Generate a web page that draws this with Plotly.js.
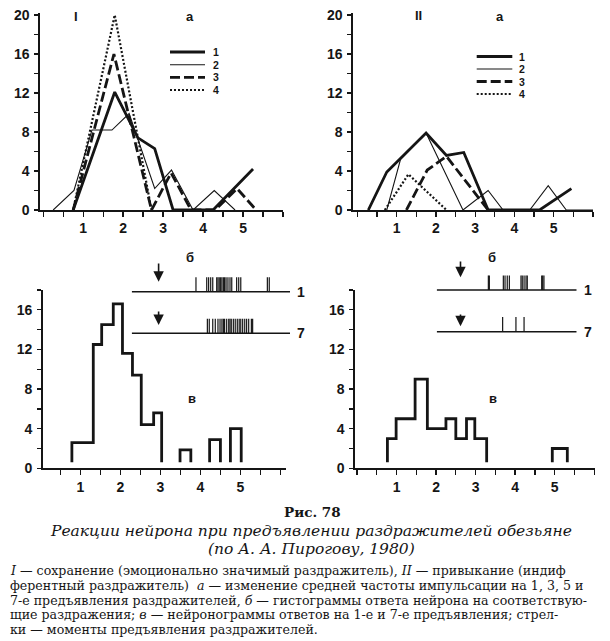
<!DOCTYPE html>
<html><head><meta charset="utf-8">
<script src="https://cdn.plot.ly/plotly-3.0.1.min.js"></script>
<style>html,body{margin:0;padding:0;background:#fff}#chart{width:610px;height:641px}</style>
</head><body><div id="chart"></div>
<script>
// ---------- DATA ----------
const xTickVals = [1, 2, 3, 4, 5];
const xTickText = ['1', '2', '3', '4', '5'];
const topYTicks = [0, 4, 8, 12, 16, 20];
const botYTicks = [0, 4, 8, 12, 16];
const seriesNames = ['1', '2', '3', '4'];

// Panel I, a — mean firing rate change, presentations 1,3,5,7
const I_x1 = [0.75, 1.79, 2.37, 2.79, 3.25, 4.25, 5.25];
const I_y1 = [0, 12.1, 7.4, 6.3, 0, 0, 4.2];
const I_x2 = [0.25, 0.77, 1.22, 1.72, 2.15, 2.79, 3.21, 3.75, 4.28, 4.8];
const I_y2 = [0, 2.0, 8.2, 8.2, 9.9, 2.2, 4.1, 0, 2.0, 0];
const I_x3 = [0.75, 1.77, 2.71, 3.2, 3.7, 4.3, 4.85, 5.33];
const I_y3 = [0, 16, 0, 3.8, 0, 0, 2.2, 0];
const I_x4 = [0.75, 1.79, 2.71];
const I_y4 = [0, 20, 0];

// Panel II, a
const II_x1 = [0.28, 0.75, 1.75, 2.27, 2.71, 3.33, 4.64, 5.45];
const II_y1 = [0, 3.9, 7.9, 5.6, 5.9, 0, 0, 2.2];
const II_x2 = [0.75, 1.1, 1.75, 2.69, 3.33, 3.71, 4.39, 4.86, 5.32, 6.0];
const II_y2 = [0, 5.2, 7.9, 0, 2.0, 0, 0, 2.5, 0, 0];
const II_x3 = [1.25, 1.78, 2.27, 3.33];
const II_y3 = [0, 4.1, 5.5, 0];
const II_x4 = [0.7, 1.3, 2.27];
const II_y4 = [0, 3.66, 0];

// Histograms (в)
const histI_left   = [0.785, 1.32, 1.53, 1.82, 2.05, 2.30, 2.52, 2.83, 3.49, 4.23, 4.75];
const histI_right  = [1.32, 1.53, 1.82, 2.05, 2.30, 2.52, 2.83, 3.03, 3.76, 4.50, 5.02];
const histI_counts = [2.6, 12.5, 14.5, 16.6, 11.6, 9.4, 4.4, 5.6, 1.85, 2.9, 4.0];
const histII_left   = [0.77, 0.99, 1.47, 1.78, 2.25, 2.50, 2.77, 2.98, 4.94];
const histII_right  = [0.99, 1.47, 1.78, 2.25, 2.50, 2.77, 2.98, 3.28, 5.32];
const histII_counts = [3, 5, 9, 4, 5, 3, 5, 3, 2];

// Neuronograms (б): spike times, stimulus time, trials
const trials = [1, 7];
const stimTime = 17;
const rasterWindow = [0, 100];
const rasterI_trial1 = [40.6, 47.4, 48.6, 49.9, 51.2, 53.7, 54.5, 55.3, 56.2, 57.0, 57.9, 58.7, 59.6, 60.8, 62.1, 63.2, 66.3, 67.6, 68.9, 85.7, 86.9];
const rasterI_trial7 = [47.8, 49.0, 51.2, 52.8, 54.5, 55.8, 57.0, 57.9, 58.7, 60.0, 61.3, 62.1, 62.9, 64.2, 65.4, 66.7, 67.9, 68.9, 70.1, 71.4, 72.6, 73.9, 75.6, 76.4];
const rasterII_trial1 = [36.9, 37.6, 47.6, 48.8, 50.4, 51.9, 60.2, 61.1, 62.4, 63.8, 64.7, 75.0, 75.7, 76.6];
const rasterII_trial7 = [47.1, 56.6, 62.4];

// ---------- HELPERS ----------
const INK = '#151515';
const W = 610, H = 641;
const px = v => v / W;
const py = v => 1 - v / H;

const styles = [
  {width: 2.8, dash: 'solid'},
  {width: 1.1, dash: 'solid'},
  {width: 2.8, dash: '10px,4px'},
  {width: 2.2, dash: '2px,2px'}
];

function lineTrace(x, y, i, xa, ya) {
  return {x, y, xaxis: xa, yaxis: ya, type: 'scatter', mode: 'lines', name: seriesNames[i],
    showlegend: false, hoverinfo: 'skip', cliponaxis: false,
    line: {color: INK, width: styles[i].width, dash: styles[i].dash, shape: 'linear'}};
}

const histBase = 0.6;
function stepPath(lefts, rights, counts) {
  const xs = [], ys = [];
  for (let i = 0; i < lefts.length; i++) {
    const newGroup = i === 0 || Math.abs(lefts[i] - rights[i - 1]) > 1e-6;
    if (newGroup) {
      if (i > 0) { xs.push(rights[i - 1]); ys.push(histBase); xs.push(null); ys.push(null); }
      xs.push(lefts[i]); ys.push(histBase);
    }
    xs.push(lefts[i]); ys.push(counts[i]);
    xs.push(rights[i]); ys.push(counts[i]);
  }
  xs.push(rights[rights.length - 1]); ys.push(histBase);
  return {xs, ys};
}
function histTrace(l, r, c, xa, ya) {
  const p = stepPath(l, r, c);
  return {x: p.xs, y: p.ys, xaxis: xa, yaxis: ya, type: 'scatter', mode: 'lines',
    showlegend: false, hoverinfo: 'skip', connectgaps: false,
    line: {color: INK, width: 2.8, shape: 'linear'}};
}

const spikeH = 2.1;
function spikeTrace(times, row, xa, ya) {
  const xs = [], ys = [];
  times.forEach(t => { xs.push(t, t, null); ys.push(row, row - spikeH, null); });
  return {x: xs, y: ys, xaxis: xa, yaxis: ya, type: 'scatter', mode: 'lines',
    showlegend: false, hoverinfo: 'skip', line: {color: INK, width: 1.2}};
}
function baseTrace(row, xa, ya) {
  return {x: rasterWindow, y: [row, row], xaxis: xa, yaxis: ya, type: 'scatter', mode: 'lines',
    showlegend: false, hoverinfo: 'skip', line: {color: INK, width: 1.4}};
}

const data = [
  lineTrace(I_x2, I_y2, 1, 'x', 'y'),
  lineTrace(I_x4, I_y4, 3, 'x', 'y'),
  lineTrace(I_x3, I_y3, 2, 'x', 'y'),
  lineTrace(I_x1, I_y1, 0, 'x', 'y'),
  lineTrace(II_x2, II_y2, 1, 'x2', 'y2'),
  lineTrace(II_x4, II_y4, 3, 'x2', 'y2'),
  lineTrace(II_x3, II_y3, 2, 'x2', 'y2'),
  lineTrace(II_x1, II_y1, 0, 'x2', 'y2'),
  histTrace(histI_left, histI_right, histI_counts, 'x3', 'y3'),
  histTrace(histII_left, histII_right, histII_counts, 'x4', 'y4'),
  baseTrace(trials[0], 'x5', 'y5'), baseTrace(trials[1], 'x5', 'y5'),
  spikeTrace(rasterI_trial1, trials[0], 'x5', 'y5'),
  spikeTrace(rasterI_trial7, trials[1], 'x5', 'y5'),
  baseTrace(trials[0], 'x6', 'y6'), baseTrace(trials[1], 'x6', 'y6'),
  spikeTrace(rasterII_trial1, trials[0], 'x6', 'y6'),
  spikeTrace(rasterII_trial7, trials[1], 'x6', 'y6')
];

// ---------- LAYOUT ----------
const tickFont = {family: 'Liberation Sans, Arial, sans-serif', size: 14, color: INK, weight: 'bold'};
function xAx(dom, range, anchor) {
  return {domain: dom, range, anchor, showline: true, linecolor: INK, linewidth: 1.6,
    showgrid: false, zeroline: false, ticks: 'outside', ticklen: 5, tickwidth: 1.3, tickcolor: INK,
    tickmode: 'array', tickvals: xTickVals, ticktext: xTickText, tickfont: tickFont,
    minor: {tickmode: 'linear', tick0: 0, dtick: 0.5, ticks: 'outside', ticklen: 5, tickwidth: 1.3, tickcolor: INK, showgrid: false},
    fixedrange: true};
}
function yAx(dom, range, ticks, anchor) {
  return {domain: dom, range, anchor, showline: true, linecolor: INK, linewidth: 1.6,
    showgrid: false, zeroline: false, ticks: 'outside', ticklen: 4, tickwidth: 1.3, tickcolor: INK,
    tickmode: 'array', tickvals: ticks, tickfont: tickFont, ticklabelstandoff: 2,
    minor: {tickmode: 'linear', tick0: 0, dtick: 2, ticks: 'outside', ticklen: 4, tickwidth: 1.3, tickcolor: INK, showgrid: false},
    fixedrange: true};
}
function hiddenAx(dom, range, anchor) {
  return {domain: dom, range, anchor, visible: false, fixedrange: true};
}

const topY = [py(210), py(12.6)];
const botY = [py(468.3), py(290)];

const layout = {
  width: W, height: H, margin: {l: 0, r: 0, t: 0, b: 0},
  paper_bgcolor: '#fff', plot_bgcolor: 'rgba(0,0,0,0)', showlegend: false,
  font: {family: 'Liberation Sans, Arial, sans-serif', color: INK},
  xaxis:  xAx([px(40), px(283)], [-0.08, 6.0], 'y'),
  yaxis:  yAx(topY, [0, 20.25], topYTicks, 'x'),
  xaxis2: xAx([px(353), px(593)], [-0.11, 6.0], 'y2'),
  yaxis2: yAx(topY, [0, 20.25], topYTicks, 'x2'),
  xaxis3: xAx([px(42.7), px(286)], [0.055, 6.14], 'y3'),
  yaxis3: yAx(botY, [0, 18], botYTicks, 'x3'),
  xaxis4: xAx([px(355), px(595)], [-0.05, 6.02], 'y4'),
  yaxis4: yAx(botY, [0, 18], botYTicks, 'x4'),
  xaxis5: hiddenAx([px(131.7), px(290)], rasterWindow, 'y5'),
  yaxis5: hiddenAx([py(340.2), py(257.05)], [8, -4], 'x5'),
  xaxis6: hiddenAx([px(436.7), px(576.7)], rasterWindow, 'y6'),
  yaxis6: hiddenAx([py(338.65), py(255.25)], [8, -4], 'x6'),
  shapes: [],
  annotations: []
};

// legend keys (panel a)
const legendPos = [
  {x0: 170, x1: 205, tx: 216, ys: [52, 64.7, 77.4, 90]},
  {x0: 476.7, x1: 512.3, tx: 522, ys: [56.5, 69, 81.5, 94]}
];
const legFont = {family: 'Liberation Sans, Arial, sans-serif', size: 10.5, color: INK, weight: 'bold'};
const lblFont = {family: 'Liberation Sans, Arial, sans-serif', size: 14, color: INK, weight: 'bold'};
legendPos.forEach(lp => {
  lp.ys.forEach((yy, i) => {
    layout.shapes.push({type: 'line', xref: 'paper', yref: 'paper', x0: px(lp.x0), x1: px(lp.x1), y0: py(yy), y1: py(yy),
      line: {color: INK, width: styles[i].width, dash: styles[i].dash}});
    layout.annotations.push({xref: 'paper', yref: 'paper', x: px(lp.tx), y: py(yy), text: seriesNames[i],
      showarrow: false, xanchor: 'center', yanchor: 'middle', font: legFont, borderpad: 0});
  });
});

// panel letters
const letters = [
  ['I', 76, 16], ['а', 190, 16], ['II', 418, 15], ['а', 500, 16],
  ['б', 190, 258], ['б', 492, 258], ['в', 192, 399], ['в', 493, 398]
];
letters.forEach(([t, x, y]) => layout.annotations.push({xref: 'paper', yref: 'paper', x: px(x), y: py(y), text: t,
  showarrow: false, xanchor: 'center', yanchor: 'middle', font: {family: 'Liberation Sans, Arial, sans-serif', size: 13, color: INK, weight: 'bold'}}));

// raster row labels and stimulus arrows
const arrowTail = [[4.3, 3.35], [4.3, 2.7]];
const arrowTip = [[1.45, 1.2], [1.85, 0.8]];
[['x5', 'y5'], ['x6', 'y6']].forEach(([xa, ya], k) => {
  trials.forEach((row, j) => {
    layout.annotations.push({xref: xa, yref: ya, x: rasterWindow[1], y: row, text: String(row), showarrow: false,
      xanchor: 'left', yanchor: 'middle', xshift: 5, font: lblFont});
    layout.annotations.push({xref: xa, yref: ya, axref: xa, ayref: ya, x: stimTime, y: row - arrowTip[k][j],
      ax: stimTime, ay: row - arrowTail[k][j], text: '', showarrow: true, arrowhead: 2, arrowsize: 1.3,
      arrowwidth: 1.6, arrowcolor: INK});
  });
});

// caption
const serif = 'DejaVu Serif, Liberation Serif, serif';
layout.annotations.push({xref: 'paper', yref: 'paper', x: px(313), y: py(512), text: 'Рис. 78', showarrow: false,
  xanchor: 'center', yanchor: 'middle', font: {family: serif, size: 13.5, color: INK, weight: 'bold'}});
layout.annotations.push({xref: 'paper', yref: 'paper', x: px(311), y: py(531), text: '<i>Реакции нейрона при предъявлении раздражителей обезьяне</i>', showarrow: false,
  xanchor: 'center', yanchor: 'middle', font: {family: serif, size: 15.5, color: INK}});
layout.annotations.push({xref: 'paper', yref: 'paper', x: px(311), y: py(549), text: '<i>(по А. А. Пирогову, 1980)</i>', showarrow: false,
  xanchor: 'center', yanchor: 'middle', font: {family: serif, size: 15.5, color: INK}});
const bodyLines = [
  '<i>I</i> — сохранение (эмоционально значимый раздражитель), <i>II</i> — привыкание (индиф',
  'ферентный раздражитель)  <i>а</i> — изменение средней частоты импульсации на 1, 3, 5 и',
  '7-е предъявления раздражителей, <i>б</i> — гистограммы ответа нейрона на соответствую-',
  'щие раздражения; <i>в</i> — нейронограммы ответов на 1-е и 7-е предъявления; стрел-',
  'ки — моменты предъявления раздражителей.'
];
const bodyY = [570, 585, 600, 614.5, 629];
bodyLines.forEach((t, i) => layout.annotations.push({xref: 'paper', yref: 'paper', x: px(8), y: py(bodyY[i]), text: t,
  showarrow: false, xanchor: 'left', yanchor: 'middle', font: {family: serif, size: 12.6, color: INK}}));

Plotly.newPlot('chart', data, layout, {staticPlot: true, displayModeBar: false});
</script></body></html>
